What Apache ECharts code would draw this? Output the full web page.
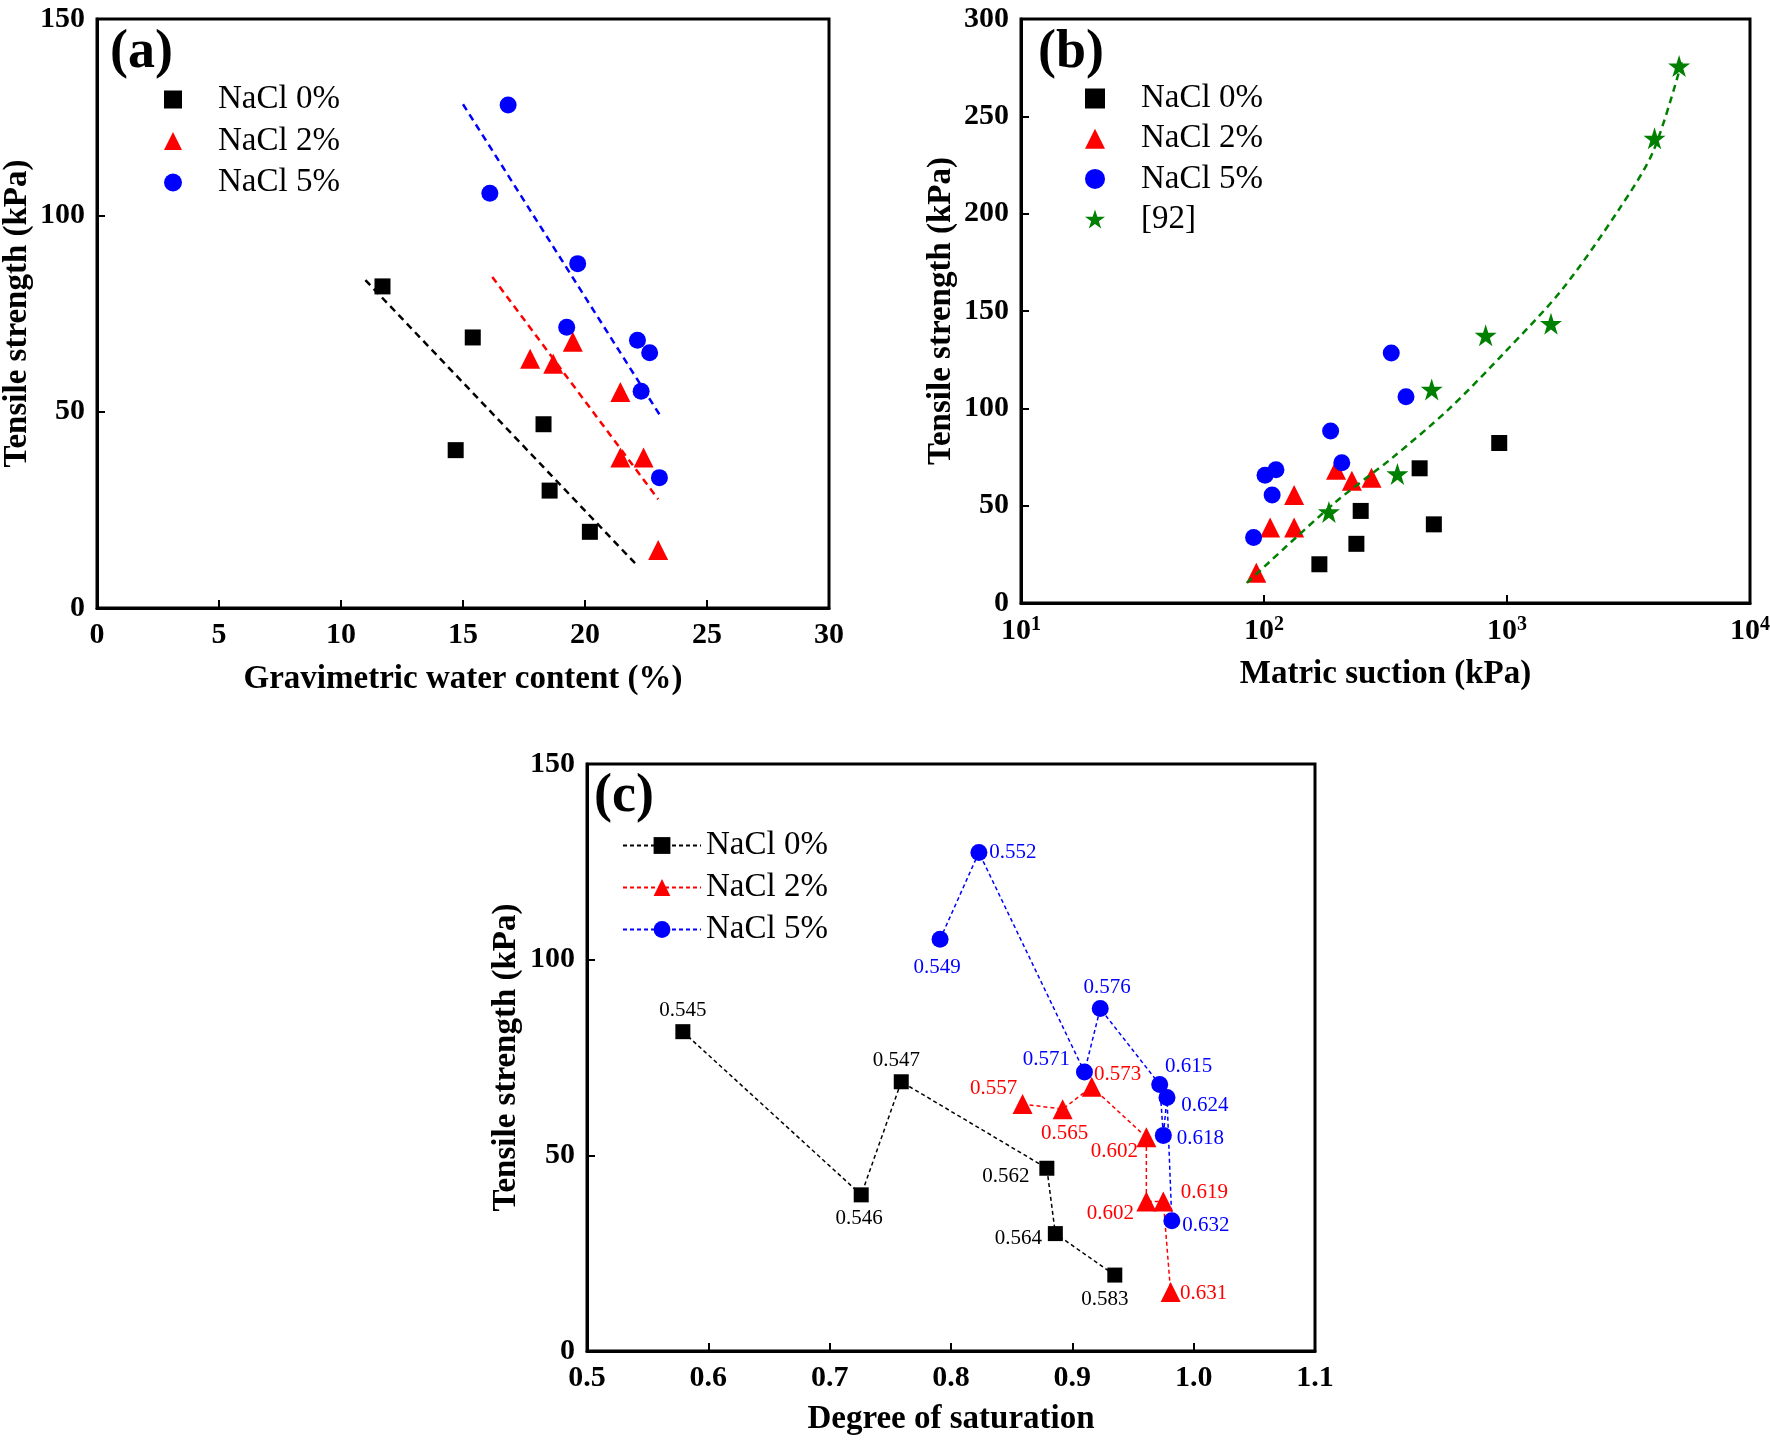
<!DOCTYPE html>
<html>
<head>
<meta charset="utf-8">
<title>Tensile strength</title>
<script src="https://cdn.jsdelivr.net/npm/echarts@6/dist/echarts.min.js"></script>
<style>
  html, body { margin: 0; padding: 0; background: #fff; }
  #main { width: 1770px; height: 1441px; }
</style>
</head>
<body>
<div id="main"></div>
<script>
// ---- (a) tensile strength vs gravimetric water content (%)
const wc0 = [11.7, 15.4, 14.7, 18.3, 18.55, 20.2];
const tsA0 = [81.9, 68.9, 40.2, 46.8, 29.9, 19.4];
const wc2 = [17.75, 18.7, 19.5, 21.45, 21.45, 22.4, 23.0];
const tsA2 = [63.5, 62.2, 67.8, 55.0, 38.3, 38.3, 14.8];
const wc5 = [16.85, 16.1, 19.7, 19.25, 22.15, 22.65, 22.3, 23.05];
const tsA5 = [128.1, 105.6, 87.7, 71.5, 68.2, 65.0, 55.2, 33.2];
// dashed trend lines, end points
const fitWc0 = [11.0, 22.05], fitTs0 = [83.5, 11.4];
const fitWc2 = [16.2, 23.0], fitTs2 = [84.3, 27.7];
const fitWc5 = [15.0, 23.05], fitTs5 = [128.3, 49.3];

// ---- (b) tensile strength vs matric suction (kPa), log x
const suc0 = [169, 240, 250, 437, 500, 929];
const tsB0 = [19.9, 30.4, 47.3, 69.2, 40.4, 82.2];
const suc2 = [93, 106, 133, 133, 198, 230, 277];
const tsB2 = [15.5, 38.8, 38.8, 55.5, 68.5, 62.8, 64.4];
const suc5 = [90.6, 101, 112, 108, 188, 209, 334, 384];
const tsB5 = [33.6, 65.6, 68.5, 55.5, 88.4, 72.0, 128.4, 106.0];
const sucRef = [185, 354, 490, 817, 1517, 4047, 5108];
const tsRef = [46.8, 66.3, 109.7, 137.5, 143.5, 238.7, 275.8];
// dashed curve through [92] data
const curveSuc = [85, 196, 336, 575, 986, 1690, 2897, 4000, 5236];
const curveTs = [10.3, 51.6, 74.4, 99.5, 129.2, 161.2, 202.4, 232.1, 277.8];

// ---- (c) tensile strength vs degree of saturation, labelled with void ratio
const sat0 = [0.579, 0.726, 0.759, 0.879, 0.886, 0.935];
const tsC0 = [81.6, 39.9, 68.8, 46.7, 30.0, 19.4];
const lab0 = ['0.545', '0.546', '0.547', '0.562', '0.564', '0.583'];
const sat2 = [0.859, 0.892, 0.916, 0.961, 0.961, 0.975, 0.981];
const tsC2 = [63.1, 61.8, 67.5, 54.6, 38.2, 38.2, 15.1];
const lab2 = ['0.557', '0.565', '0.573', '0.602', '0.602', '0.619', '0.631'];
const sat5 = [0.791, 0.823, 0.910, 0.923, 0.972, 0.975, 0.978, 0.982];
const tsC5 = [105.2, 127.4, 71.3, 87.5, 68.1, 55.1, 64.8, 33.3];
const lab5 = ['0.549', '0.552', '0.571', '0.576', '0.615', '0.618', '0.624', '0.632'];

// label offsets (px) from marker centre, panel (c)
const off0 = [[0, -21], [-2, 24], [-5, -21], [-41, 8], [-37, 5], [-10, 24]];
const off2 = [[-29, -16], [2, 24], [26, -12], [-32, 14], [-36, 12], [41, -9], [33, 2]];
const off5 = [[-3, 28], [34, 0], [-38, -12], [7, -21], [29, -18], [37, 3], [38, 8], [34, 5]];

const SERIF = 'Liberation Serif';
const BLACK = '#000000', RED = '#ff0000', BLUE = '#0000ff', GREEN = '#008000';
const STAR = 'path://M50 0L61.2 34.5L97.6 34.5L68.2 55.9L79.4 90.5L50 69.1L20.6 90.5L31.8 55.9L2.4 34.5L38.8 34.5Z';

function pairs(xs, ys) {
  return xs.map((x, i) => [x, ys[i]]);
}

function labelled(xs, ys, labels, offsets) {
  return xs.map((x, i) => ({
    value: [x, ys[i]],
    label: { formatter: labels[i], offset: offsets[i] }
  }));
}

function axis(gridIndex, extra) {
  return Object.assign({
    gridIndex: gridIndex,
    type: 'value',
    nameLocation: 'middle',
    nameTextStyle: { fontFamily: SERIF, fontWeight: 'bold', fontSize: 33, color: BLACK },
    axisLine: { show: true, onZero: false, lineStyle: { color: BLACK, width: 3 } },
    axisTick: { show: true, inside: true, length: 8, lineStyle: { color: BLACK, width: 2 } },
    axisLabel: { color: BLACK, fontFamily: SERIF, fontWeight: 'bold', fontSize: 30, margin: 12 },
    splitLine: { show: false }
  }, extra);
}

// legend column; textPad pushes the label away from a lone marker
function legendBox(top, left, names, icons, w, h, gap, textPad) {
  return {
    orient: 'vertical', left: left, top: top, padding: 0,
    itemWidth: w, itemHeight: h, itemGap: gap,
    selectedMode: false,
    textStyle: { fontFamily: SERIF, fontSize: 33, color: BLACK, padding: [0, 0, 0, textPad] },
    data: names.map((n, i) => icons ? { name: n, icon: icons[i] } : { name: n })
  };
}

const names = ['NaCl 0%', 'NaCl 2%', 'NaCl 5%'];

const trendStyle = (c) => ({ color: c, width: 2.5, type: [7, 5] });
const panelTitle = { fontFamily: SERIF, fontWeight: 'bold', fontSize: 54, color: BLACK };

const option = {
  animation: false,
  backgroundColor: '#fff',
  title: [
    { text: '(a)', left: 110, top: 26, padding: 0, textStyle: panelTitle },
    { text: '(b)', left: 1038, top: 26, padding: 0, textStyle: panelTitle },
    { text: '(c)', left: 594, top: 770, padding: 0, textStyle: panelTitle }
  ],
  legend: [
    legendBox(83, 164, names, ['rect', 'triangle', 'circle'], 18, 18, 8.5, 31),
    legendBox(82, 1085, names.concat(['[92]']), ['rect', 'triangle', 'circle', STAR], 20, 20, 7.2, 31),
    legendBox(829, 622, names, null, 78, 21, 9, 0)
  ],
  grid: [
    { left: 97, top: 19, width: 732, height: 589, show: true, borderColor: BLACK, borderWidth: 3, outerBoundsMode: 'none' },
    { left: 1021, top: 19, width: 729, height: 584, show: true, borderColor: BLACK, borderWidth: 3, outerBoundsMode: 'none' },
    { left: 587, top: 764, width: 728, height: 587, show: true, borderColor: BLACK, borderWidth: 3, outerBoundsMode: 'none' }
  ],
  xAxis: [
    axis(0, { min: 0, max: 30, interval: 5, name: 'Gravimetric water content (%)', nameGap: 55 }),
    axis(1, {
      type: 'log', logBase: 10, min: 10, max: 10000, name: 'Matric suction (kPa)', nameGap: 55,
      axisLabel: {
        color: BLACK, fontFamily: SERIF, fontWeight: 'bold', fontSize: 30, margin: 12,
        formatter: (v) => '10{sup|' + Math.round(Math.log10(v)) + '}',
        rich: { sup: { fontFamily: SERIF, fontWeight: 'bold', fontSize: 20, color: BLACK, verticalAlign: 'top', padding: [0, 0, 12, 0] } }
      }
    }),
    axis(2, {
      min: 0.5, max: 1.1, interval: 0.1, name: 'Degree of saturation', nameGap: 52,
      axisLabel: { color: BLACK, fontFamily: SERIF, fontWeight: 'bold', fontSize: 30, margin: 12, formatter: (v) => v.toFixed(1) }
    })
  ],
  yAxis: [
    axis(0, { min: 0, max: 150, interval: 50, name: 'Tensile strength (kPa)', nameGap: 63 }),
    axis(1, { min: 0, max: 300, interval: 50, name: 'Tensile strength (kPa)', nameGap: 63 }),
    axis(2, { min: 0, max: 150, interval: 50, name: 'Tensile strength (kPa)', nameGap: 64 })
  ],
  series: [
    // (c) first so its legend picks up the line+marker icon
    {
      name: names[0], type: 'line', xAxisIndex: 2, yAxisIndex: 2,
      symbol: 'rect', symbolSize: 15, itemStyle: { color: BLACK },
      lineStyle: { color: BLACK, width: 1.5, type: [4, 3] },
      label: { show: true, position: 'inside', fontFamily: SERIF, fontSize: 21, color: BLACK },
      data: labelled(sat0, tsC0, lab0, off0)
    },
    {
      name: names[1], type: 'line', xAxisIndex: 2, yAxisIndex: 2,
      symbol: 'triangle', symbolSize: 20, itemStyle: { color: RED },
      lineStyle: { color: RED, width: 1.5, type: [4, 3] },
      label: { show: true, position: 'inside', fontFamily: SERIF, fontSize: 21, color: RED },
      data: labelled(sat2, tsC2, lab2, off2)
    },
    {
      name: names[2], type: 'line', xAxisIndex: 2, yAxisIndex: 2,
      symbol: 'circle', symbolSize: 17, itemStyle: { color: BLUE },
      lineStyle: { color: BLUE, width: 1.5, type: [4, 3] },
      label: { show: true, position: 'inside', fontFamily: SERIF, fontSize: 21, color: BLUE },
      data: labelled(sat5, tsC5, lab5, off5)
    },

    // (a)
    { name: 'fitA0', type: 'line', xAxisIndex: 0, yAxisIndex: 0, symbol: 'none', lineStyle: trendStyle(BLACK), data: pairs(fitWc0, fitTs0) },
    { name: 'fitA2', type: 'line', xAxisIndex: 0, yAxisIndex: 0, symbol: 'none', lineStyle: trendStyle(RED), data: pairs(fitWc2, fitTs2) },
    { name: 'fitA5', type: 'line', xAxisIndex: 0, yAxisIndex: 0, symbol: 'none', lineStyle: trendStyle(BLUE), data: pairs(fitWc5, fitTs5) },
    { name: names[0], type: 'scatter', xAxisIndex: 0, yAxisIndex: 0, symbol: 'rect', symbolSize: 16, itemStyle: { color: BLACK, opacity: 1 }, data: pairs(wc0, tsA0) },
    { name: names[1], type: 'scatter', xAxisIndex: 0, yAxisIndex: 0, symbol: 'triangle', symbolSize: 20, itemStyle: { color: RED, opacity: 1 }, data: pairs(wc2, tsA2) },
    { name: names[2], type: 'scatter', xAxisIndex: 0, yAxisIndex: 0, symbol: 'circle', symbolSize: 17, itemStyle: { color: BLUE, opacity: 1 }, data: pairs(wc5, tsA5) },

    // (b)
    { name: 'curve92', type: 'line', xAxisIndex: 1, yAxisIndex: 1, symbol: 'none', smooth: 0.3, lineStyle: trendStyle(GREEN), data: pairs(curveSuc, curveTs) },
    { name: names[0], type: 'scatter', xAxisIndex: 1, yAxisIndex: 1, symbol: 'rect', symbolSize: 16, itemStyle: { color: BLACK, opacity: 1 }, data: pairs(suc0, tsB0) },
    { name: names[1], type: 'scatter', xAxisIndex: 1, yAxisIndex: 1, symbol: 'triangle', symbolSize: 20, itemStyle: { color: RED, opacity: 1 }, data: pairs(suc2, tsB2) },
    { name: names[2], type: 'scatter', xAxisIndex: 1, yAxisIndex: 1, symbol: 'circle', symbolSize: 17, itemStyle: { color: BLUE, opacity: 1 }, data: pairs(suc5, tsB5) },
    { name: '[92]', type: 'scatter', xAxisIndex: 1, yAxisIndex: 1, symbol: STAR, symbolSize: 22, itemStyle: { color: GREEN, opacity: 1 }, data: pairs(sucRef, tsRef) }
  ]
};

const chart = echarts.init(document.getElementById('main'));
chart.setOption(option);
</script>
</body>
</html>
